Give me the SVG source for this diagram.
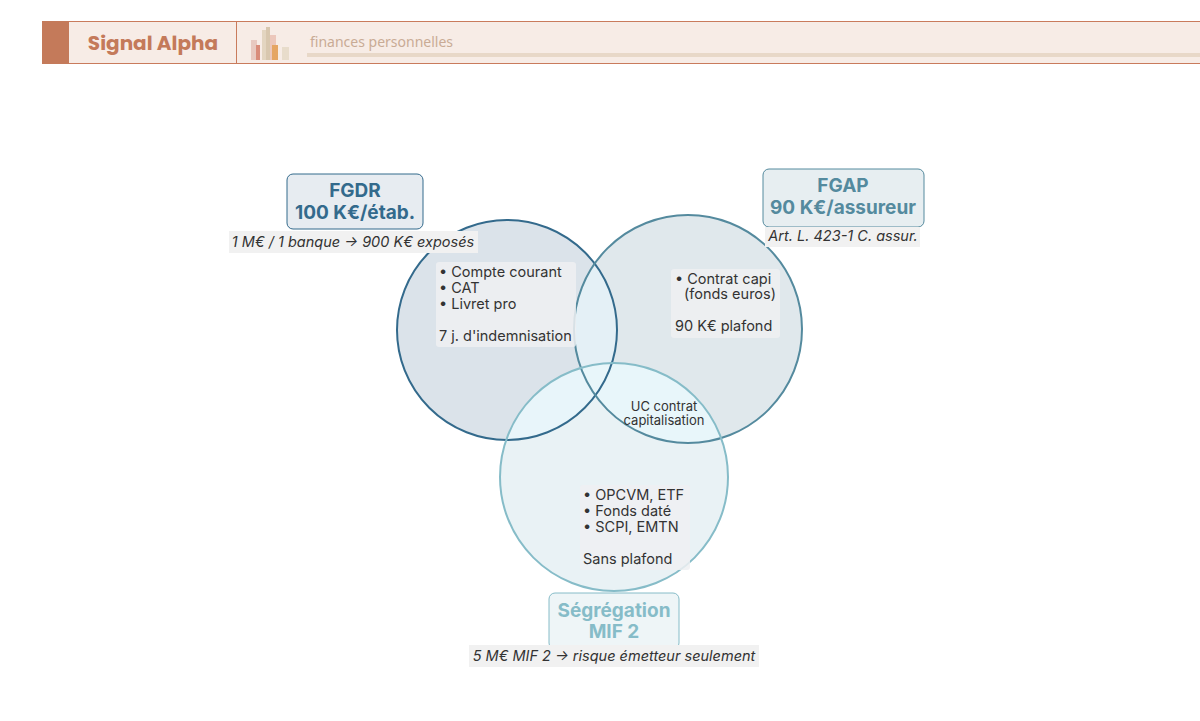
<svg xmlns="http://www.w3.org/2000/svg" width="1200" height="721" viewBox="0 0 1200 721">
<style>
text{font-family:Inter,"Noto Sans",sans-serif}
.b{font-size:14.5px;fill:#333}
.n{font-size:13px;fill:#333}
.i{font-size:14.5px;fill:#333;font-style:italic}
.h{font-size:19px;font-weight:bold;text-anchor:middle}
.bg{fill:#eef0f2;opacity:.85}
</style>
<defs>
<clipPath id="cl"><circle cx="507" cy="330" r="110"/></clipPath>
<clipPath id="cr"><circle cx="688" cy="329" r="114"/></clipPath>
</defs>
<rect width="1200" height="721" fill="#fff"/>
<g id="header">
<rect x="42" y="21" width="1158" height="43" fill="#f7ece6"/>
<line x1="42" y1="21.5" x2="1200" y2="21.5" stroke="#c97b5c"/>
<line x1="42" y1="63.5" x2="1200" y2="63.5" stroke="#c97b5c"/>
<rect x="42" y="21" width="27" height="43" fill="#c47a5a"/>
<text x="153" y="50" text-anchor="middle" style="font-family:Poppins,'Noto Sans',sans-serif;font-size:20px;font-weight:bold;fill:#c47a5a">Signal Alpha</text>
<line x1="236.5" y1="21" x2="236.5" y2="64" stroke="#c97b5c"/>
<rect x="251" y="40" width="6" height="20" fill="#e8c9c0"/><rect x="256" y="45" width="4" height="15" fill="#d98c7a"/>
<rect x="262" y="30" width="7" height="30" fill="#e3d5c0"/><rect x="266" y="27" width="4" height="33" fill="#d8c7ae"/>
<rect x="270" y="35" width="6" height="25" fill="#ecc7bb"/><rect x="272" y="45" width="6" height="15" fill="#e5a564"/>
<rect x="282" y="47" width="7" height="13" fill="#e8dccb"/>
<text x="310" y="47" style="font-family:'Noto Sans',sans-serif;font-size:14px;fill:#c9ab95">finances personnelles</text>
<rect x="307" y="53" width="893" height="4" fill="#e8d8c8"/>
</g>
<g id="circles">
<circle cx="507" cy="330" r="110" fill="#dbe3ea"/>
<circle cx="688" cy="329" r="114" fill="#e0e8ec"/>
<circle cx="614" cy="477" r="114" fill="#e9f2f5"/>
<circle cx="688" cy="329" r="114" fill="#e4f0f6" clip-path="url(#cl)"/>
<g clip-path="url(#cl)"><circle cx="614" cy="477" r="114" fill="#e8f5fa"/></g>
<g clip-path="url(#cr)"><circle cx="614" cy="477" r="114" fill="#e8f6fa"/></g>
<circle cx="507" cy="330" r="110" fill="none" stroke="#336a8c" stroke-width="2"/>
<circle cx="688" cy="329" r="114" fill="none" stroke="#548a9e" stroke-width="2"/>
<circle cx="614" cy="477" r="114" fill="none" stroke="#86bcc8" stroke-width="2"/>
</g>
<g id="fgdr">
<rect x="287" y="174" width="136" height="55" rx="6" fill="#e7ecf1" stroke="#336a8c"/>
<text class="h" x="355" y="197" fill="#336a8c">FGDR</text>
<text class="h" x="355" y="219" fill="#336a8c">100 K€/étab.</text>
<rect x="229" y="231" width="249" height="22" fill="#f1f1f1"/>
<text class="i" x="353" y="247" text-anchor="middle">1 M€ / 1 banque → 900 K€ exposés</text>
<rect class="bg" x="436" y="262" width="140" height="85" rx="3"/>
<text class="b" x="439" y="277">• Compte courant</text>
<text class="b" x="439" y="293">• CAT</text>
<text class="b" x="439" y="309">• Livret pro</text>
<text class="b" x="439" y="341">7 j. d'indemnisation</text>
</g>
<g id="fgap">
<rect x="763" y="169" width="161" height="58" rx="6" fill="#e7eef1" stroke="#548a9e"/>
<text class="h" x="843" y="192" fill="#548a9e">FGAP</text>
<text class="h" x="843" y="214" fill="#548a9e">90 K€/assureur</text>
<rect x="765" y="227" width="155" height="20" fill="#f1f1f1"/>
<text class="i" x="843" y="241" text-anchor="middle">Art. L. 423-1 C. assur.</text>
<rect class="bg" x="671" y="269" width="109" height="69" rx="3"/>
<text class="b" x="675" y="284">• Contrat capi</text>
<text class="b" x="684" y="299">(fonds euros)</text>
<text class="b" x="675" y="331">90 K€ plafond</text>
</g>
<g id="uc">
<text class="n" x="664" y="411" text-anchor="middle">UC contrat</text>
<text class="n" x="664" y="425" text-anchor="middle">capitalisation</text>
</g>
<g id="mif">
<rect class="bg" x="580" y="485" width="110" height="85" rx="3"/>
<text class="b" x="583" y="500">• OPCVM, ETF</text>
<text class="b" x="583" y="516">• Fonds daté</text>
<text class="b" x="583" y="532">• SCPI, EMTN</text>
<text class="b" x="583" y="564">Sans plafond</text>
<rect x="549" y="593" width="130" height="56" rx="6" fill="#eef5f7" stroke="#86bcc8"/>
<text class="h" x="614" y="617" fill="#86bcc8">Ségrégation</text>
<text class="h" x="614" y="638" fill="#86bcc8">MIF 2</text>
<rect x="469" y="645" width="290" height="22" fill="#f1f1f1"/>
<text class="i" x="614" y="661" text-anchor="middle">5 M€ MIF 2 → risque émetteur seulement</text>
</g>
</svg>
